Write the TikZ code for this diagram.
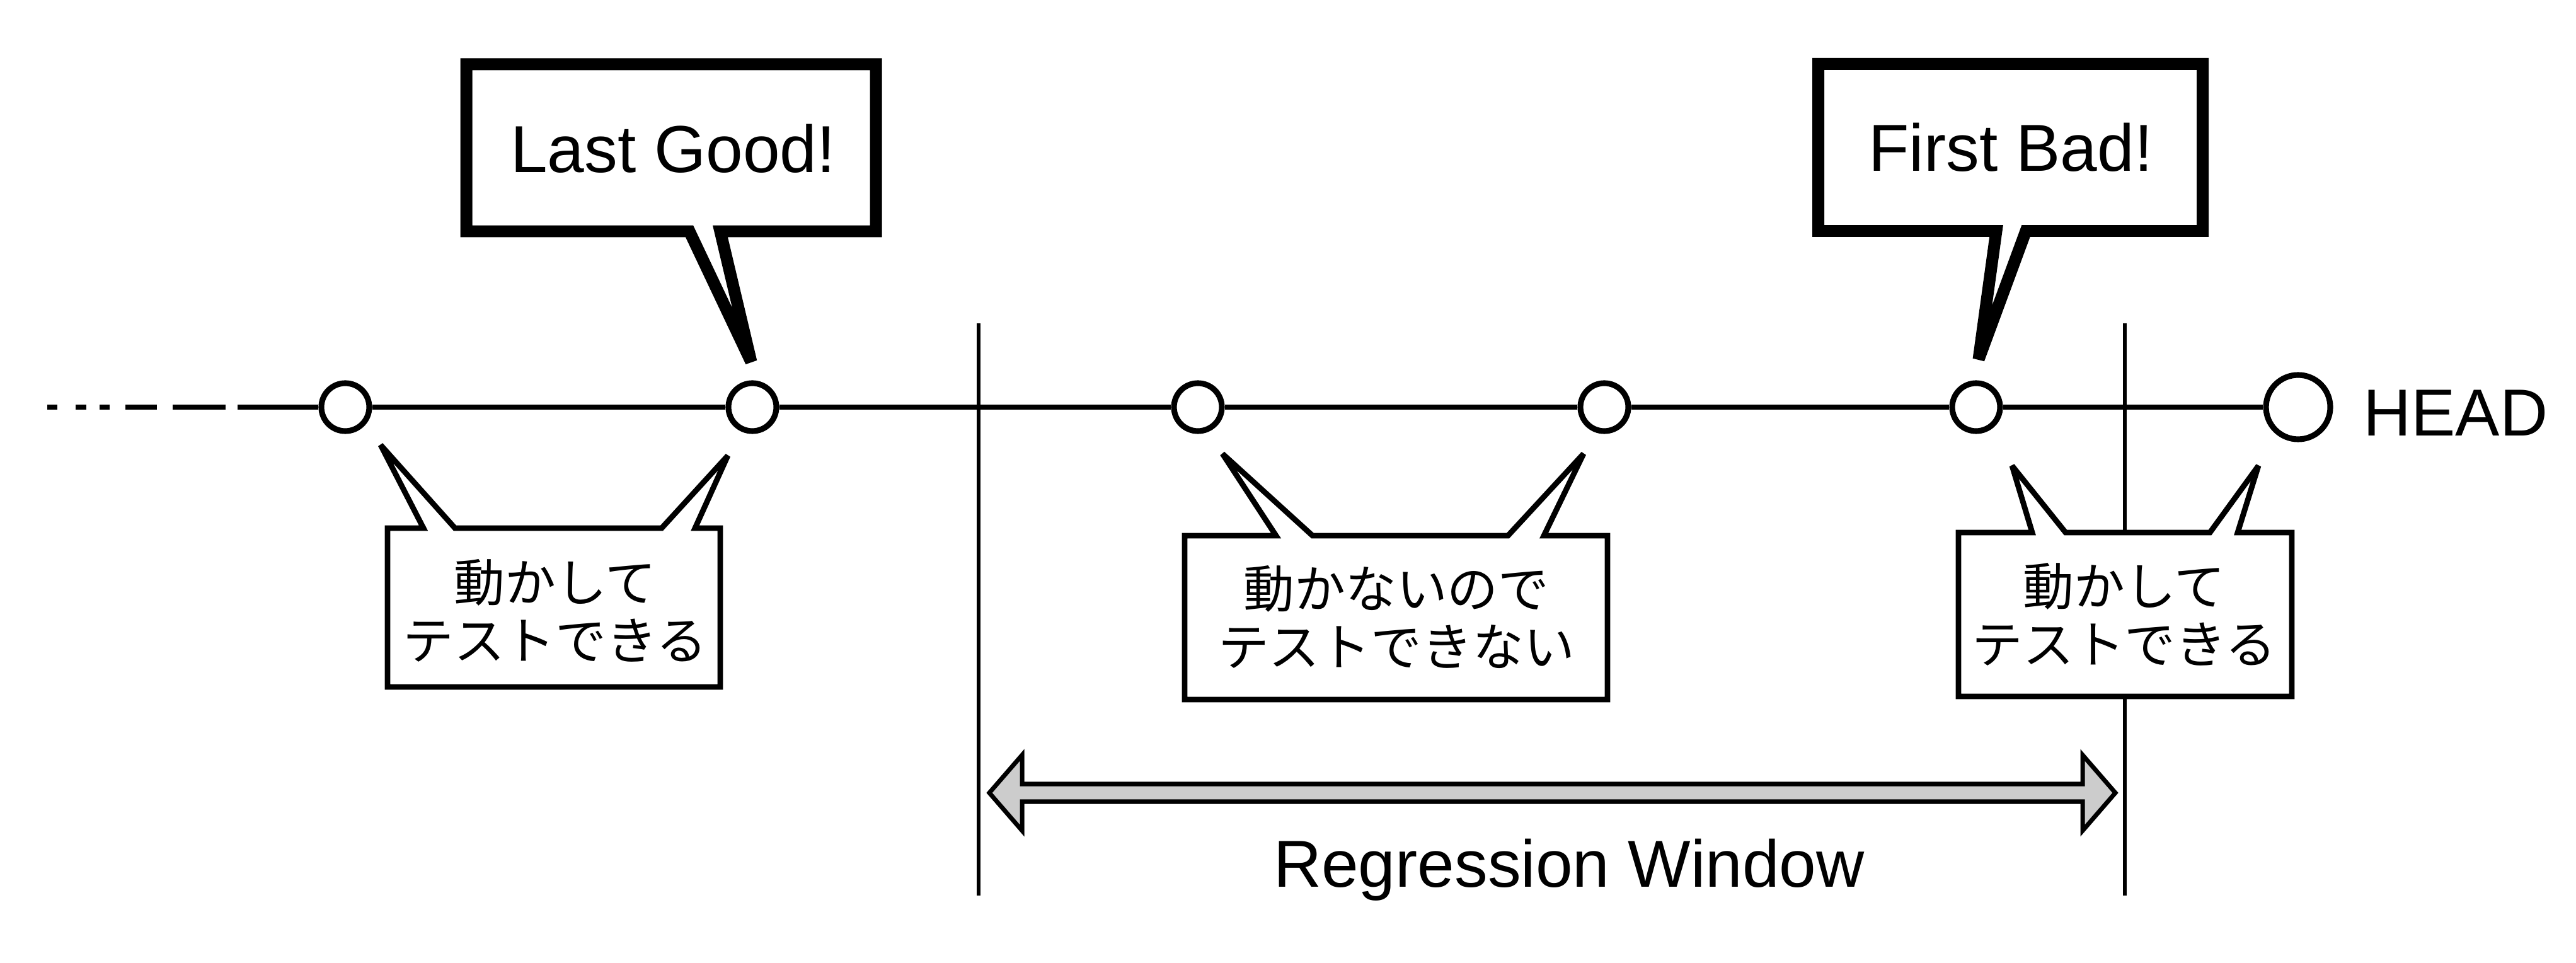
\documentclass[tikz,border=0pt]{standalone}
\usepackage{fontspec}
\setmainfont{Liberation Sans}
\newfontfamily\jpfont{Noto Sans CJK JP}
\begin{document}
\begin{tikzpicture}[
    commit/.style={draw, circle, fill=white, line width=2.6pt, inner sep=0pt, minimum size=0.76cm},
    history/.style={line width=2.5pt},
    bigcallout/.style={draw, fill=white, line width=5.4pt, miter limit=3},
    smallcallout/.style={draw, fill=white, line width=2.5pt, miter limit=3},
    jp/.style={font=\jpfont\fontsize{23}{26}\selectfont, align=center},
    en/.style={font=\fontsize{30}{36}\selectfont}
  ]
  \useasboundingbox (0,0) rectangle (40.88,-15.28);
  % edges of the window
  \draw[line width=1.7pt] (15.53,-5.13) coordinate (wl) -- (15.53,-14.21);
  \draw[line width=1.7pt] (33.72,-5.13) coordinate (wr) -- (33.72,-14.21);
  % commits
  \foreach \a/\b in {0.75/0.91,1.20/1.37,1.58/1.74,1.99/2.49,2.74/3.58}
    \draw[history] (\a,-6.46) -- (\b,-6.46);
  \coordinate (tail) at (3.77,-6.46);
  \node[commit] (c1) at (5.48,-6.46) {};
  \node[commit] (c2) at (11.94,-6.46) {};
  \node[commit] (c3) at (19.01,-6.46) {};
  \node[commit] (c4) at (25.46,-6.46) {};
  \node[commit] (c5) at (31.36,-6.46) {};
  \node[commit, minimum size=1.02cm] (head) at (36.47,-6.46) {};
  \draw[history] (tail) -- (c1) -- (c2) -- (c3) -- (c4) -- (c5) -- (head);
  \node[en, anchor=base west] (headlabel) at (37.38,-6.92) {HEAD};
  % callouts above
  \draw[bigcallout] (7.40,-1.02) -- (13.90,-1.02) -- (13.90,-3.67) -- (11.43,-3.67)
    -- (11.92,-5.74) -- (10.94,-3.67) -- (7.40,-3.67) -- cycle;
  \node[en, anchor=base] (lastgood) at (10.68,-2.74) {Last Good!};
  \draw[bigcallout] (28.855,-1.015) -- (34.955,-1.015) -- (34.955,-3.665) -- (32.15,-3.665)
    -- (31.40,-5.70) -- (31.68,-3.665) -- (28.855,-3.665) -- cycle;
  \node[en, anchor=base] (firstbad) at (31.91,-2.72) {First Bad!};
  % callouts below
  \draw[smallcallout] (6.15,-8.38) -- (6.72,-8.38) -- (6.04,-7.06) -- (7.22,-8.38)
    -- (10.50,-8.38) -- (11.55,-7.23) -- (11.03,-8.38) -- (11.43,-8.38)
    -- (11.43,-10.90) -- (6.15,-10.90) -- cycle;
  \node[jp] (testA) at (8.81,-9.69) {動かして\\テストできる};
  \draw[smallcallout] (18.80,-8.50) -- (20.25,-8.50) -- (19.40,-7.20) -- (20.83,-8.50)
    -- (23.93,-8.50) -- (25.13,-7.20) -- (24.50,-8.50) -- (25.51,-8.50)
    -- (25.51,-11.10) -- (18.80,-11.10) -- cycle;
  \node[jp] (testB) at (22.16,-9.79) {動かないので\\テストできない};
  \draw[smallcallout] (31.08,-8.45) -- (32.25,-8.45) -- (31.93,-7.39) -- (32.78,-8.45)
    -- (35.07,-8.45) -- (35.84,-7.39) -- (35.51,-8.45) -- (36.37,-8.45)
    -- (36.37,-11.05) -- (31.08,-11.05) -- cycle;
  \node[jp] (testC) at (33.71,-9.75) {動かして\\テストできる};
  % regression window
  \draw[line width=2pt, fill=black!20] (15.70,-12.58) -- (16.22,-11.98) -- (16.22,-12.44)
    -- (33.05,-12.44) -- (33.05,-11.98) -- (33.57,-12.58) -- (33.05,-13.18)
    -- (33.05,-12.72) -- (16.22,-12.72) -- (16.22,-13.18) -- cycle;
  \node[en, anchor=base] (window) at (24.90,-14.07) {Regression Window};
\end{tikzpicture}
\end{document}
